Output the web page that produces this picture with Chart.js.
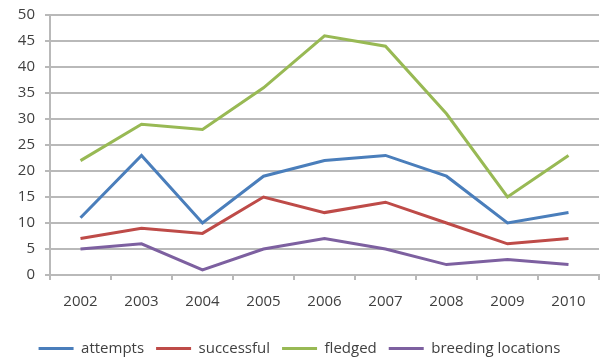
<!DOCTYPE html>
<html>
<head>
<meta charset="utf-8">
<script src="https://cdn.jsdelivr.net/npm/chart.js@4/dist/chart.umd.min.js"></script>
<style>
  html, body { margin: 0; padding: 0; background: #fff; }
  #wrap { width: 603px; height: 358px; position: relative; }
</style>
</head>
<body>
<div id="wrap"><canvas id="canvas"></canvas></div>
<script>
// years on the x axis
const years = ['2002', '2003', '2004', '2005', '2006', '2007', '2008', '2009', '2010'];

// counts per year
const attempts = [11, 23, 10, 19, 22, 23, 19, 10, 12];
const successful = [7, 9, 8, 15, 12, 14, 10, 6, 7];
const fledged = [22, 29, 28, 36, 46, 44, 31, 15, 23];
const breedingLocations = [5, 6, 1, 5, 7, 5, 2, 3, 2];

const FONT = "'Open Sans', 'Liberation Sans', sans-serif";
const GRID = '#b9b9b9';

function series(label, data, color) {
    return {
        label: label,
        data: data,
        borderColor: color,
        backgroundColor: color,
        borderWidth: 3,
        pointRadius: 0,
        tension: 0,
        fill: false
    };
}

const config = {
    type: 'line',
    data: {
        labels: years,
        datasets: [
            series('attempts', attempts, '#4a7ebb'),
            series('successful', successful, '#be4b48'),
            series('fledged', fledged, '#98b954'),
            series('breeding locations', breedingLocations, '#7d60a0')
        ]
    },
    options: {
        responsive: true,
        maintainAspectRatio: false,
        animation: false,
        // legend sits low, close to the bottom edge
        layout: { padding: { top: 15, right: 4, left: 0, bottom: -8 } },
        plugins: {
            tooltip: { enabled: false },
            legend: {
                position: 'bottom',
                labels: {
                    usePointStyle: true,
                    pointStyle: 'line',
                    pointStyleWidth: 35,
                    boxHeight: 3,
                    padding: 12,
                    color: '#404040',
                    font: { family: FONT, size: 15 }
                }
            }
        },
        scales: {
            x: {
                offset: true,
                grid: {
                    offset: true,
                    drawOnChartArea: false,
                    drawTicks: true,
                    tickLength: 5,
                    color: GRID,
                    lineWidth: 2
                },
                border: { display: true, color: GRID, width: 2 },
                ticks: {
                    color: '#404040',
                    padding: 13,
                    font: { family: FONT, size: 15 }
                },
                afterFit: function (scale) { scale.height = 54; }
            },
            y: {
                min: 0,
                max: 50,
                ticks: {
                    stepSize: 5,
                    color: '#404040',
                    padding: 10,
                    font: { family: FONT, size: 15 }
                },
                grid: {
                    color: GRID,
                    lineWidth: 2,
                    drawTicks: true,
                    tickLength: 5
                },
                border: { display: true, color: GRID, width: 2 },
                afterFit: function (scale) {
                    scale.width = 50;
                    scale.paddingTop = 0;
                }
            }
        }
    }
};

new Chart(document.getElementById('canvas').getContext('2d'), config);
</script>
</body>
</html>
